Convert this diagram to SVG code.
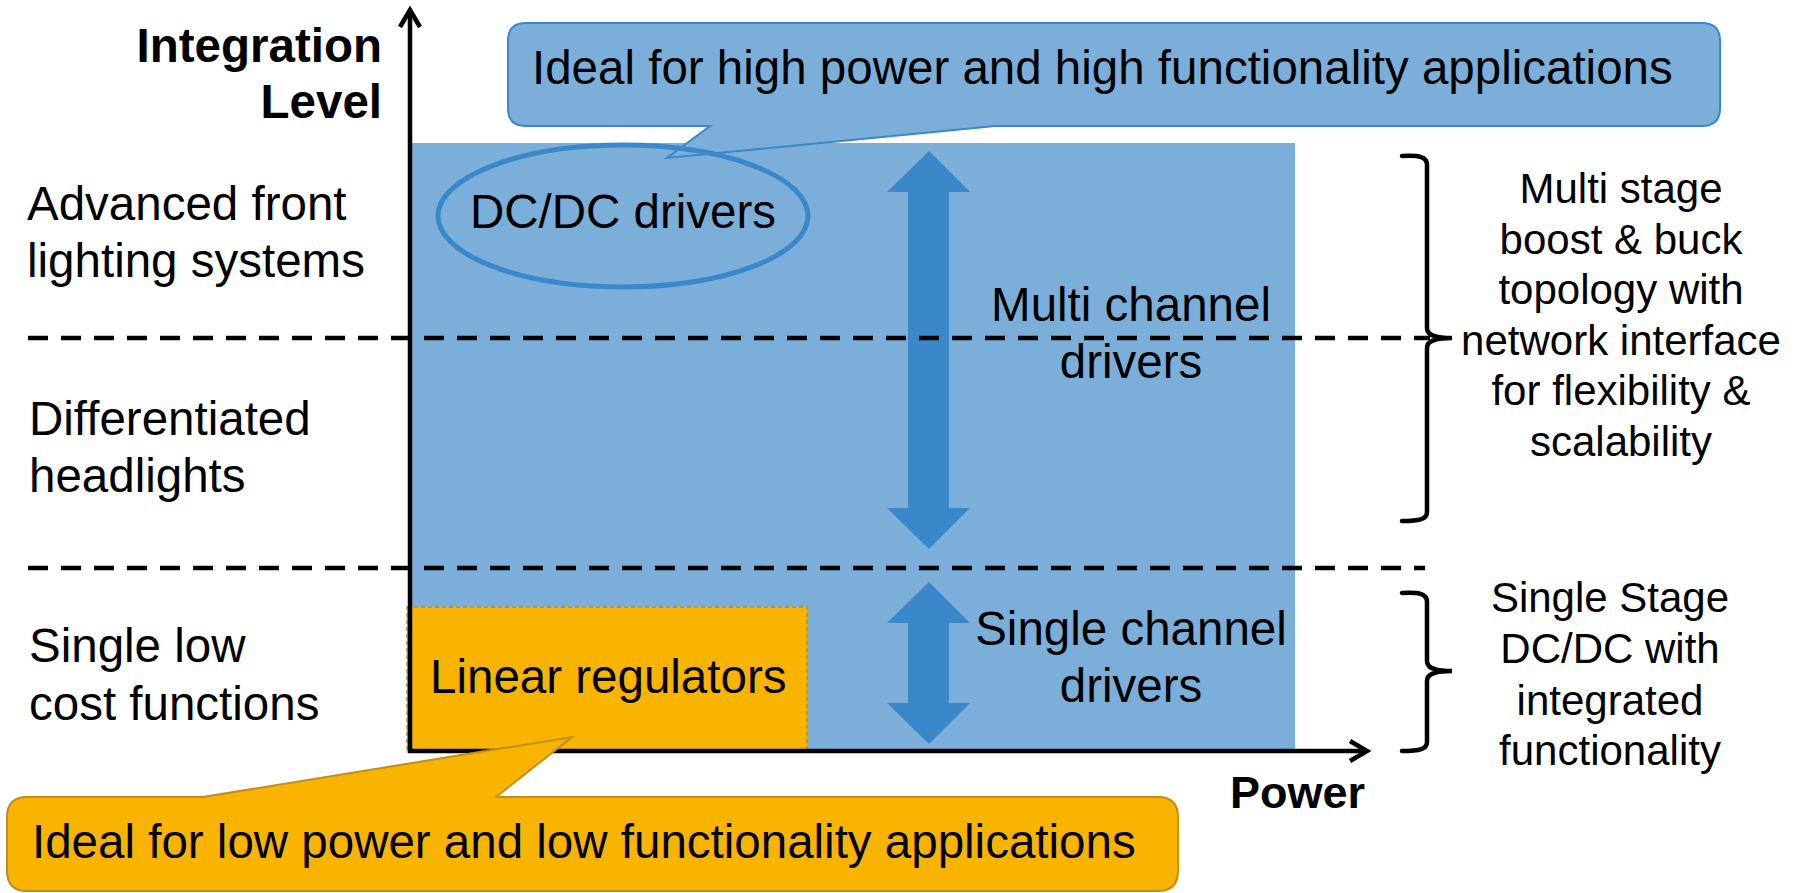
<svg xmlns="http://www.w3.org/2000/svg" width="1794" height="893" viewBox="0 0 1794 893">
<style>
text{font-family:"Liberation Sans",Arial,sans-serif;fill:#000}
.t48{font-size:47.5px}
.bold{font-weight:bold}
.r{font-size:42px;text-anchor:middle}
.mid{text-anchor:middle}
.dash{stroke:#000;stroke-width:4.5;stroke-dasharray:20 13;fill:none}
.ax{stroke:#000;stroke-width:4.5;fill:none}
.br{stroke:#000;stroke-width:4.5;fill:none;stroke-linecap:round}
.dark{fill:#3A87C9}
</style>
<rect width="1794" height="893" fill="#fff"/>
<g id="region-blue"><rect x="410" y="143" width="885" height="608" fill="#7BAFDA"/></g>
<g id="linear-regulators">
<rect x="407" y="607" width="400" height="144" fill="#F8B400" stroke="#BF8F1A" stroke-width="1.5" stroke-dasharray="4 3"/>
<text class="t48" x="430" y="693">Linear regulators</text>
</g>
<g id="callout-high">
<path d="M526,23 H1702 Q1720,23 1720,41 V108 Q1720,126 1702,126 H995 L667,158 L710,126 H526 Q508,126 508,108 V41 Q508,23 526,23 Z" fill="#7BAFDA" stroke="#3A87C9" stroke-width="2"/>
<text class="t48" x="532" y="84">Ideal for high power and high functionality applications</text>
</g>
<g id="dcdc-drivers">
<ellipse cx="623" cy="216" rx="185" ry="71" fill="none" stroke="#3A87C9" stroke-width="5"/>
<text class="t48 mid" x="623" y="228">DC/DC drivers</text>
</g>
<g id="multi-channel">
<polygon class="dark" points="929,151 970,192 949,192 949,508 970,508 929,549 887,508 908,508 908,192 887,192"/>
<text class="t48 mid" x="1131" y="321">Multi channel</text>
<text class="t48 mid" x="1131" y="378">drivers</text>
</g>
<g id="single-channel">
<polygon class="dark" points="929,582 970,623 949,623 949,703 970,703 929,744 887,703 908,703 908,623 887,623"/>
<text class="t48 mid" x="1131" y="645">Single channel</text>
<text class="t48 mid" x="1131" y="702">drivers</text>
</g>
<g id="connectors">
<line class="dash" x1="28" y1="338" x2="1430" y2="338"/>
<line class="dash" x1="28" y1="568" x2="1425" y2="568"/>
<line class="ax" x1="410" y1="753" x2="410" y2="10"/>
<path class="ax" d="M400,27 L410,10 L420,27"/>
<line class="ax" x1="408" y1="751" x2="1367" y2="751"/>
<path class="ax" d="M1350,741 L1367,751 L1350,761"/>
<path class="br" d="M1402,156 C1420,155 1427,157 1427,165 L1427,328 C1427,334 1432,338 1452,338 C1432,338 1427,342 1427,348 L1427,512 C1427,519 1420,521 1402,521"/>
<path class="br" d="M1402,593 C1420,592 1427,594 1427,602 L1427,661 C1427,667 1432,671 1452,671 C1432,671 1427,675 1427,681 L1427,742 C1427,749 1420,751 1402,751"/>
</g>
<g id="callout-low">
<path d="M27,797 H203 L572,737 L496,797 H1158 Q1178,797 1178,817 V871 Q1178,891 1158,891 H27 Q7,891 7,871 V817 Q7,797 27,797 Z" fill="#F8B400" stroke="#BF8F1A" stroke-width="2"/>
<text class="t48" x="32" y="858">Ideal for low power and low functionality applications</text>
</g>
<g id="axis-labels">
<text class="t48 bold" x="382" y="62" text-anchor="end">Integration</text>
<text class="t48 bold" x="382" y="118" text-anchor="end">Level</text>
<text class="bold" x="1230" y="808" font-size="45">Power</text>
</g>
<g id="level-labels">
<text class="t48" x="27" y="220">Advanced front</text>
<text class="t48" x="27" y="277">lighting systems</text>
<text class="t48" x="29" y="435">Differentiated</text>
<text class="t48" x="29" y="492">headlights</text>
<text class="t48" x="29" y="662">Single low</text>
<text class="t48" x="29" y="720">cost functions</text>
</g>
<g id="multi-stage-note">
<text class="r" x="1621" y="203">Multi stage</text>
<text class="r" x="1621" y="253.5">boost &amp; buck</text>
<text class="r" x="1621" y="304">topology with</text>
<text class="r" x="1621" y="354.5">network interface</text>
<text class="r" x="1621" y="405">for flexibility &amp;</text>
<text class="r" x="1621" y="455.5">scalability</text>
</g>
<g id="single-stage-note">
<text class="r" x="1610" y="612">Single Stage</text>
<text class="r" x="1610" y="663">DC/DC with</text>
<text class="r" x="1610" y="715">integrated</text>
<text class="r" x="1610" y="765">functionality</text>
</g>
</svg>
